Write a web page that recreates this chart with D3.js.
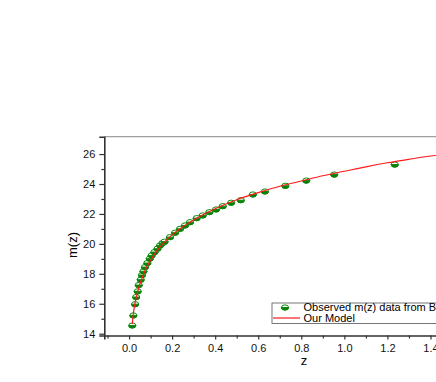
<!DOCTYPE html>
<html><head><meta charset="utf-8">
<script src="https://cdn.jsdelivr.net/npm/d3@7"></script>
<style>body{margin:0;background:#fff}svg{display:block}</style>
</head><body>
<script>
// Observed data (z, m)
const obsZ = [0.015,0.02,0.028,0.033,0.04,0.045,0.054,0.06,0.067,0.074,0.085,0.096,0.105,0.118,0.132,0.144,0.155,0.165,0.19,0.214,0.237,0.26,0.283,0.314,0.342,0.373,0.404,0.435,0.474,0.519,0.575,0.631,0.726,0.823,0.953,1.234];
const obsM = [14.55,15.22,15.97,16.45,16.83,17.25,17.61,17.92,18.17,18.45,18.72,19.01,19.23,19.45,19.68,19.9,20.05,20.15,20.45,20.75,21.01,21.23,21.45,21.72,21.9,22.12,22.3,22.52,22.75,22.92,23.3,23.5,23.88,24.23,24.63,25.3];
// Model curve
const modelZ = [0.015,0.02,0.03,0.04,0.05,0.06,0.08,0.1,0.13,0.16,0.2,0.25,0.3,0.35,0.4,0.5,0.6,0.7,0.8,0.9,1.0,1.1,1.2,1.3,1.4,1.5];
const modelM = [14.65,15.35,16.2,16.8,17.3,17.7,18.4,18.9,19.55,20.05,20.6,21.15,21.6,22.0,22.35,22.95,23.42,23.85,24.2,24.55,24.85,25.15,25.42,25.65,25.87,26.06];
const xTicks = [0.0,0.2,0.4,0.6,0.8,1.0,1.2,1.4];
const yTicks = [14,16,18,20,22,24,26];
const legendLabels = ["Observed m(z) data from BAO","Our Model"];

const W = 436, H = 382;
const svg = d3.select("body").append("svg").attr("width", W).attr("height", H);
const font = "'Liberation Sans', Arial, sans-serif";

const x = d3.scaleLinear().domain([-0.115, 1.6]).range([104.3, 104.3 + 1.715 * 215.3]);
const y = d3.scaleLinear().domain([13.88, 27.16]).range([335.5, 136.7]);

// top frame line
svg.append("line").attr("x1", 104.3).attr("x2", W).attr("y1", 136.7).attr("y2", 136.7)
  .attr("stroke", "#a0a0a0").attr("stroke-width", 1.2);

// axes
const xMinor = d3.range(-0.1, 1.55, 0.1).map(v => +v.toFixed(2)).filter(v => !xTicks.some(t => Math.abs(t - v) < 1e-6));
const yMinor = d3.range(15, 27, 2);

const gx = svg.append("g").attr("transform", "translate(0,335.5)");
gx.call(d3.axisBottom(x).tickValues(xTicks).tickFormat(d3.format(".1f")).tickSize(4).tickPadding(5));
gx.append("g").call(d3.axisBottom(x).tickValues(xMinor).tickFormat("").tickSize(3)).select(".domain").remove();
gx.selectAll(".domain").attr("stroke", "#333").attr("stroke-width", 1.6);
gx.selectAll(".tick line").attr("stroke", "#333").attr("stroke-width", 1.2);
gx.selectAll("text").attr("font-family", font).attr("font-size", 11).attr("fill", "#111");

const gy = svg.append("g").attr("transform", "translate(104.3,0)");
gy.call(d3.axisLeft(y).tickValues(yTicks).tickSize(5).tickPadding(4));
gy.append("g").call(d3.axisLeft(y).tickValues(yMinor).tickFormat("").tickSize(3)).select(".domain").remove();
gy.selectAll(".domain").attr("stroke", "#333").attr("stroke-width", 1.6);
gy.selectAll(".tick line").attr("stroke", "#333").attr("stroke-width", 1.2);
gy.selectAll("text").attr("font-family", font).attr("font-size", 11).attr("fill", "#111");

// axis titles
svg.append("text").attr("x", 304).attr("y", 365).attr("text-anchor", "middle")
  .attr("font-family", font).attr("font-size", 13).text("z");
svg.append("text").attr("transform", "translate(77,245) rotate(-90)").attr("text-anchor", "middle")
  .attr("font-family", font).attr("font-size", 13).text("m(z)");

// markers
function marker(g, cx, cy) {
  const rx = 3.6, ry = 2.6;
  g.append("ellipse").attr("cx", cx).attr("cy", cy).attr("rx", rx).attr("ry", ry)
    .attr("fill", "#ffffff").attr("stroke", "#0a8a0a").attr("stroke-width", 1);
  g.append("path").attr("d", `M${cx - rx},${cy} A${rx},${ry} 0 0 0 ${cx + rx},${cy} Z`)
    .attr("fill", "#0a7d0a").attr("stroke", "#0a8a0a").attr("stroke-width", 1);
}
const gm = svg.append("g");
obsZ.forEach((z, i) => marker(gm, x(z), y(obsM[i])));

// model line
const line = d3.line().x(d => x(d[0])).y(d => y(d[1])).curve(d3.curveMonotoneX);
svg.append("path").datum(modelZ.map((z, i) => [z, modelM[i]]))
  .attr("d", line).attr("fill", "none").attr("stroke", "#ff1a1a").attr("stroke-width", 1.2);

// legend
const lg = svg.append("g");
lg.append("rect").attr("x", 272).attr("y", 303).attr("width", 200).attr("height", 20.5)
  .attr("fill", "#fff").attr("stroke", "#555").attr("stroke-width", 0.8);
marker(lg, 285, 307.5);
lg.append("text").attr("x", 303.5).attr("y", 311).attr("font-family", font).attr("font-size", 11)
  .text(legendLabels[0]);
lg.append("line").attr("x1", 273).attr("x2", 300).attr("y1", 318).attr("y2", 318)
  .attr("stroke", "#ff1a1a").attr("stroke-width", 1.2);
lg.append("text").attr("x", 303.5).attr("y", 322).attr("font-family", font).attr("font-size", 11)
  .text(legendLabels[1]);
</script>
</body></html>
